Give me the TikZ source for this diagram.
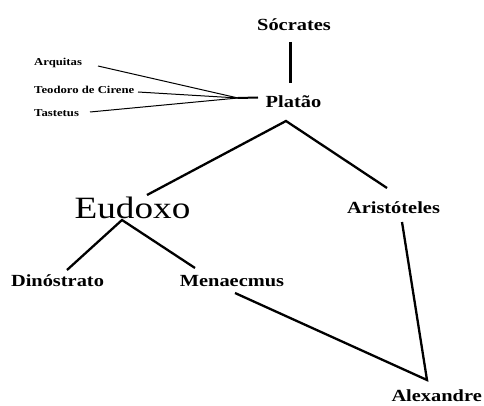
\documentclass[tikz,border=0pt]{standalone}
\usepackage{fontspec}
\setmainfont{Liberation Serif}[FakeStretch=1.2]
\begin{document}
\begin{tikzpicture}[x=1pt,y=-1pt,
  person/.style={inner sep=0pt,font=\fontsize{17}{17}\selectfont\bfseries,anchor=base},
  small/.style={inner sep=0pt,font=\fontsize{10.6}{10.6}\selectfont\bfseries,anchor=base west},
  big/.style={inner sep=0pt,font=\fontsize{31}{31}\selectfont,anchor=base},
  link/.style={line width=2.3pt,black},
  thin/.style={line width=1pt,black}]
\useasboundingbox (0,0) rectangle (484,406);
\fill[white] (0,0) rectangle (484,406);
% nodes
\node[person] (soc) at (294,31) {Sócrates};
\node[person] (pla) at (293.5,108) {Platão};
\node[small] (arq) at (34,66) {Arquitas};
\node[small] (teo) at (34,94) {Teodoro de Cirene};
\node[small] (tae) at (34,117) {Tastetus};
\node[big] (eud) at (132.5,218) {Eudoxo};
\node[person] (ari) at (393.5,213) {Aristóteles};
\node[person] (din) at (57.5,286) {Dinóstrato};
\node[person] (men) at (232,286) {Menaecmus};
\node[person,anchor=base east] (ale) at (482,401) {Alexandre};
% connector end points
\coordinate (socB) at (290.5,42);
\coordinate (plaT) at (290.5,83);
\coordinate (arqE) at (98,66);
\coordinate (teoE) at (138,92);
\coordinate (taeE) at (90,112);
\coordinate (meet) at (238,98);
\coordinate (plaW) at (258,97.5);
\coordinate (plaB) at (286,121);
\coordinate (eudT) at (147,195);
\coordinate (ariT) at (387,188);
\coordinate (eudB) at (122,220);
\coordinate (dinT) at (67,270);
\coordinate (menT) at (195,268);
\coordinate (menB) at (235,293);
\coordinate (ariB) at (402,222);
\coordinate (aleT) at (427,380);
% connectors
\draw[link] (socB) -- (plaT);
\draw[thin] (arqE) -- (meet);
\draw[thin] (teoE) -- (meet);
\draw[thin] (taeE) -- (meet);
\draw[line width=2pt] (meet) -- (plaW);
\draw[link] (eudT) -- (plaB) -- (ariT);
\draw[link] (dinT) -- (eudB) -- (menT);
\draw[link] (menB) -- (aleT) -- (ariB);
\end{tikzpicture}
\end{document}
